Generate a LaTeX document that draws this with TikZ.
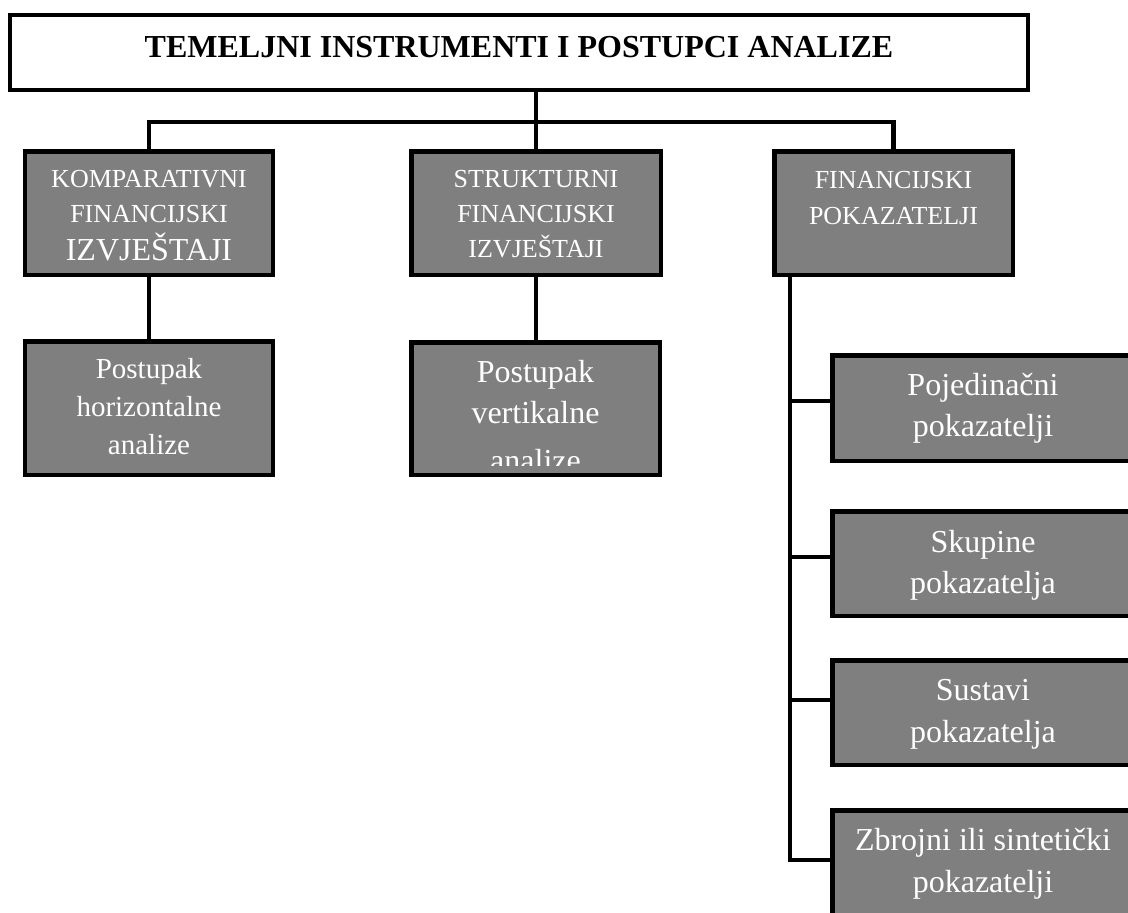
\documentclass[tikz,border=0pt]{standalone}
\usepackage{fontspec}
\setmainfont{Liberation Serif}
\usetikzlibrary{calc}
\definecolor{boxgray}{RGB}{127,127,127}
\tikzset{
  box/.style={draw=black, fill=boxgray, line width=4.5bp, inner sep=0pt, align=center, text=white},
  link/.style={line width=4.5bp},
}
\newcommand{\fs}[2]{\fontsize{#1bp}{#2bp}\selectfont}

\begin{document}
\begin{tikzpicture}[x=1bp, y=-1bp]
  \useasboundingbox (0,0) rectangle (1128,913);
  \clip (0,0) rectangle (1128,913);
  \node (title) [draw, line width=4.3bp, inner sep=0pt, minimum width=1017.7bp, text height=41.85bp, text depth=32.85bp, font=\fs{32}{38}\bfseries] at (519,52.5) {TEMELJNI INSTRUMENTI I POSTUPCI ANALIZE};
  \node (k1) [box, minimum width=247.5bp, text height=108.75bp, text depth=14.75bp, font=\fs{26}{35}] at (149,213) {KOMPARATIVNI\\FINANCIJSKI\\[3bp]{\fs{32}{38}IZVJEŠTAJI}};
  \node (k2) [box, minimum width=249.5bp, text height=105.75bp, text depth=17.75bp, font=\fs{26}{35}] at (536,213) {STRUKTURNI\\FINANCIJSKI\\IZVJEŠTAJI};
  \node (k3) [box, minimum width=238.5bp, text height=72.75bp, text depth=50.75bp, font=\fs{26}{36}] at (893.5,213) {FINANCIJSKI\\POKAZATELJI};
  \node (p1) [box, minimum width=247.5bp, text height=112.75bp, text depth=20.75bp, font=\fs{29}{38}] at (149,408) {Postupak\\horizontalne\\analize};
  \node (p2) [box, minimum width=248.5bp, text height=128.75bp, text depth=3.75bp, font=\fs{32}{41}] at (535.5,408.5) {Postupak\\vertikalne\\[7bp]analize};
  \fill[boxgray] ($(p2.south west)+(4.5,-4.5)$) rectangle ($(p2.south east)+(-4.5,-11)$);
  % pokazatelji
  \node (r1) [box, minimum width=301.5bp, text height=80.75bp, text depth=24.75bp, font=\fs{32}{41}] at (983,408) {Pojedinačni\\pokazatelji};
  \node (r2) [box, minimum width=301.5bp, text height=81.75bp, text depth=22.75bp, font=\fs{32}{41}] at (983,563.5) {Skupine\\pokazatelja};
  \node (r3) [box, minimum width=301.5bp, text height=81.75bp, text depth=22.75bp, font=\fs{32}{42}] at (983,712.5) {Sustavi\\pokazatelja};
  \node (r4) [box, minimum width=301.5bp, text height=81.75bp, text depth=23.75bp, font=\fs{32}{42}] at (983,863) {Zbrojni ili sintetički\\pokazatelji};
  % veze
  \coordinate (bar) at (519,122);
  \draw[link] (title.south -| k2.north) -- (k2.north);
  \draw[link] (k1.north) |- (bar) -| (k3.north);
  \draw[link] (k1.south) -- (p1.north);
  \draw[link] (k2.south) -- (k2.south |- p2.north);
  \coordinate (trunk) at ($(k3.south west)+(18,0)$);
  \coordinate (s4) at ($(r4.west)+(0,-3)$);
  \draw[link] (trunk) |- (s4);
  \foreach \r/\d in {r1/-7, r2/-6.5, r3/-12.5} {
    \coordinate (s\r) at ($(\r.west)+(0,\d)$);
    \draw[link] (trunk |- s\r) -- (s\r);
  }
\end{tikzpicture}
\end{document}
